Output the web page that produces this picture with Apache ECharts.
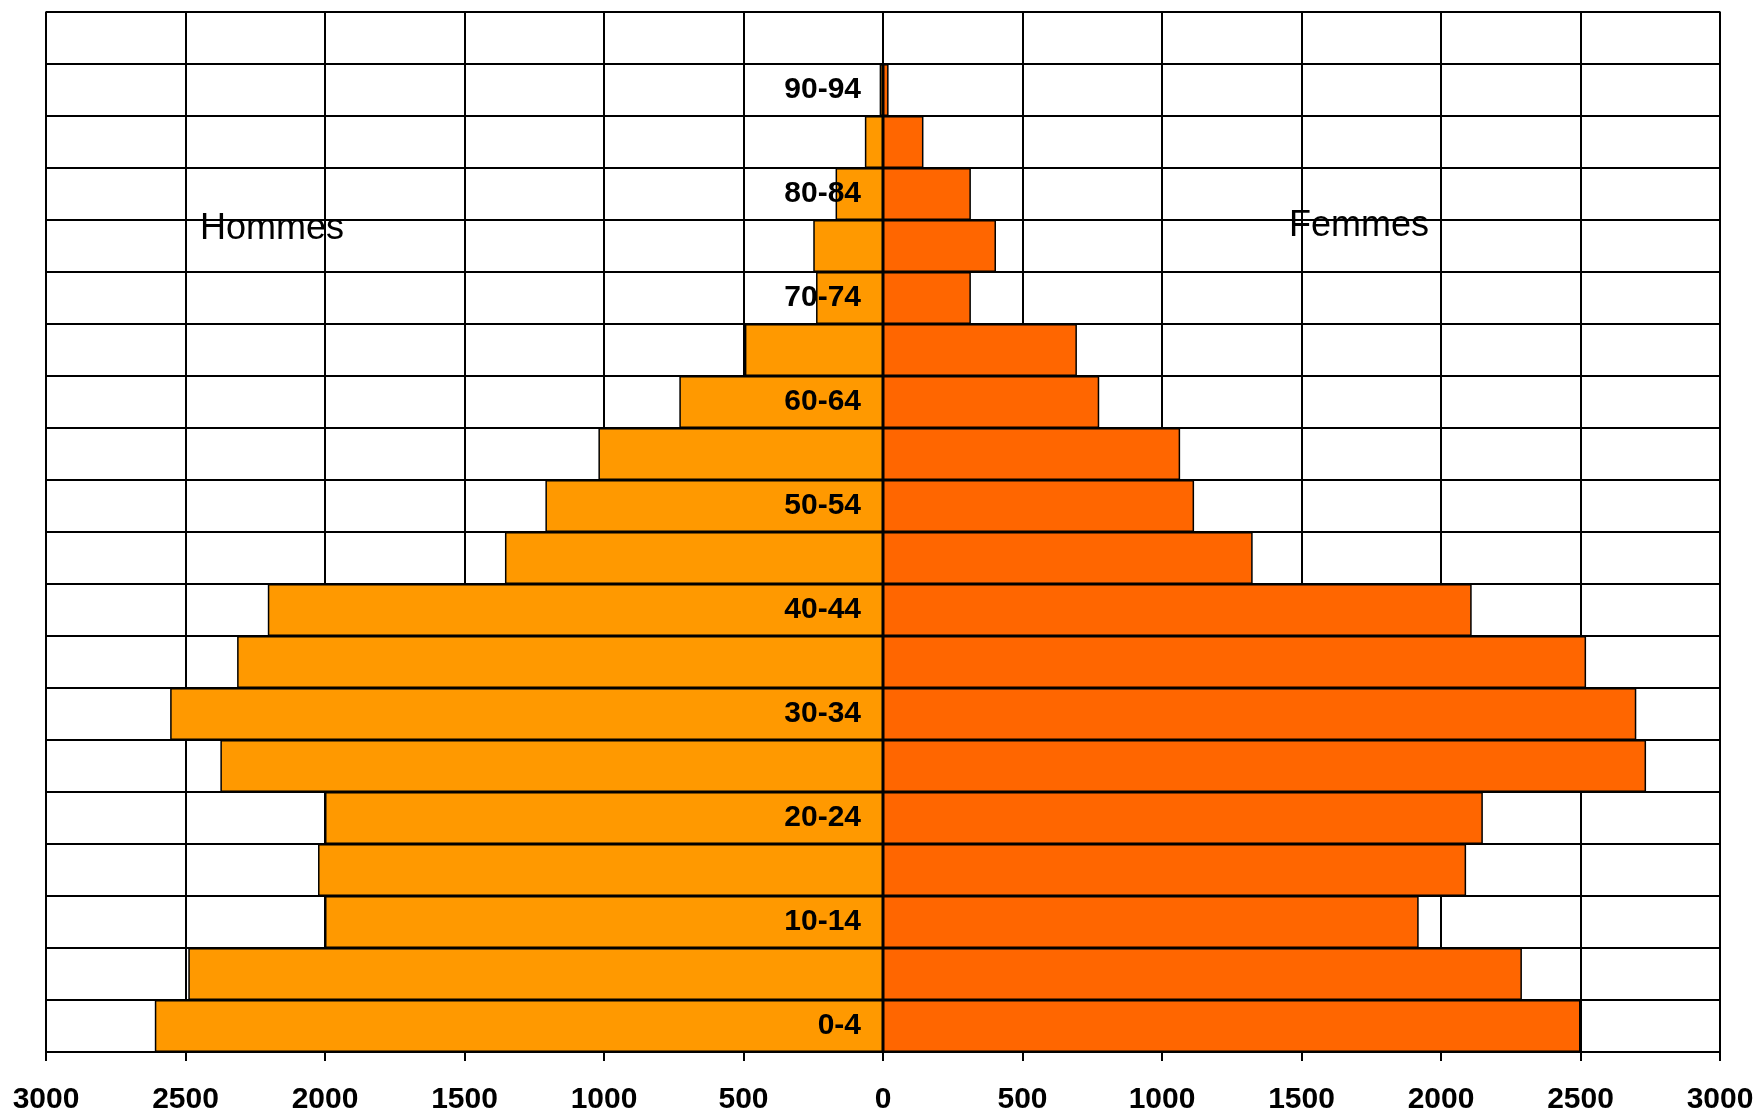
<!DOCTYPE html>
<html>
<head>
<meta charset="utf-8">
<script src="https://cdn.jsdelivr.net/npm/echarts@6/dist/echarts.min.js"></script>
<style>
  html, body { margin: 0; padding: 0; background: #fff; }
  #main { width: 1758px; height: 1115px; }
</style>
</head>
<body>
<div id="main"></div>
<script>
  // 연령대 (아래에서 위로)
  var ageGroups = ['0-4', '5-9', '10-14', '15-19', '20-24', '25-29', '30-34', '35-39', '40-44', '45-49',
                   '50-54', '55-59', '60-64', '65-69', '70-74', '75-79', '80-84', '85-89', '90-94', '95-99'];

  // 남자 (Hommes)
  var hommes = [2610, 2490, 2000, 2025, 2000, 2375, 2555, 2315, 2205, 1355,
                1210, 1020, 730, 495, 240, 250, 170, 65, 12, 0];

  // 여자 (Femmes)
  var femmes = [2500, 2290, 1920, 2090, 2150, 2735, 2700, 2520, 2110, 1325,
                1115, 1065, 775, 695, 315, 405, 315, 145, 20, 0];

  // x축 눈금
  var xMin = -3000, xMax = 3000, xStep = 500;

  var font = "'Liberation Sans', Arial, sans-serif";

  // 그리드 위치
  var gridLeft = 46, gridRight = 38;
  var plotWidth = 1758 - gridLeft - gridRight;

  var myChart = echarts.init(document.getElementById('main'));

  var option = {
    animation: false,
    backgroundColor: '#fff',
    grid: {
      left: gridLeft,
      right: gridRight,
      top: 12,
      bottom: 63,
      containLabel: false,
      outerBoundsMode: 'none',
      show: true,
      borderColor: '#808080',
      borderWidth: 2
    },
    xAxis: {
      type: 'value',
      min: xMin,
      max: xMax,
      interval: xStep,
      axisLine: { show: true, onZero: false, lineStyle: { color: '#000', width: 2 } },
      axisTick: { show: true, length: 9, lineStyle: { color: '#000', width: 2 } },
      axisLabel: {
        formatter: function (v) { return Math.abs(v); },
        color: '#000',
        fontFamily: font,
        fontWeight: 'bold',
        fontSize: 30,
        margin: 33
      },
      splitLine: { show: true, lineStyle: { color: '#000', width: 2 } }
    },
    yAxis: {
      type: 'category',
      data: ageGroups,
      z: 10,
      position: 'left',
      offset: -plotWidth / 2,   // 0 위치에 축 배치
      axisLine: { show: true, onZero: false, lineStyle: { color: '#000', width: 2 } },
      axisTick: { show: true, interval: 0, length: 8, lineStyle: { color: '#000', width: 2 } },
      axisLabel: {
        interval: 1,
        color: '#000',
        fontFamily: font,
        fontWeight: 'bold',
        fontSize: 30,
        margin: 22
      },
      splitLine: { show: true, interval: 0, lineStyle: { color: '#000', width: 2 } }
    },
    graphic: [
      {
        type: 'text',
        x: 200,
        y: 229,
        style: { text: 'Hommes', font: '36px ' + font, fill: '#000', textVerticalAlign: 'middle', verticalAlign: 'middle' }
      },
      {
        type: 'text',
        x: 1289,
        y: 226,
        style: { text: 'Femmes', font: '36px ' + font, fill: '#000', textVerticalAlign: 'middle', verticalAlign: 'middle' }
      }
    ],
    series: [
      {
        name: 'Hommes',
        type: 'bar',
        barGap: '-100%',
        barCategoryGap: 0,
        itemStyle: { color: '#FF9900', borderColor: '#000', borderWidth: 1.5 },
        data: hommes.map(function (v) { return -v; })
      },
      {
        name: 'Femmes',
        type: 'bar',
        barGap: '-100%',
        barCategoryGap: 0,
        itemStyle: { color: '#FF6600', borderColor: '#000', borderWidth: 1.5 },
        data: femmes
      }
    ]
  };

  myChart.setOption(option);
</script>
</body>
</html>
